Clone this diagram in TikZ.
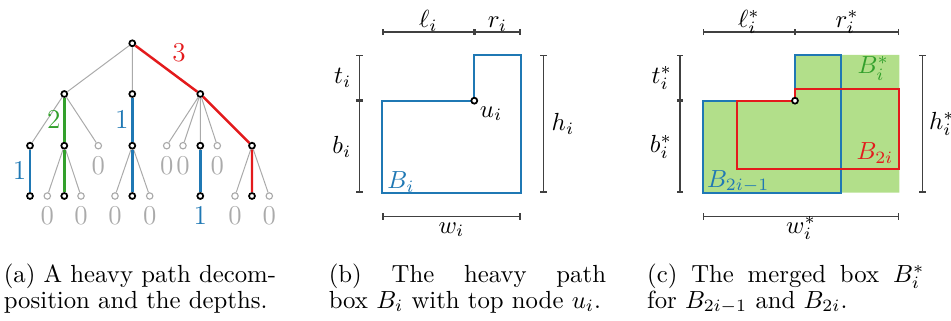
\documentclass[tikz,border=0pt]{standalone}
\usetikzlibrary{arrows.meta}
\definecolor{hblue}{HTML}{1F78B4}
\definecolor{hred}{HTML}{E31A1C}
\definecolor{hgreen}{HTML}{33A02C}
\definecolor{hfill}{HTML}{B2DF8A}
\definecolor{lgr}{HTML}{AAAAAA}
\definecolor{dimc}{HTML}{404040}
\tikzset{
  vtx/.style={circle,draw=black,fill=white,line width=0.7pt,inner sep=0pt,minimum size=2.4pt},
  gvtx/.style={vtx,draw=lgr,line width=0.45pt,minimum size=2.6pt},
  zero/.style={gvtx,label={[dig,text=lgr,label distance=1.5pt]below:0}},
  light/.style={draw=lgr,line width=0.4pt},
  heavy/.style={line width=1pt},
  dig/.style={font=\fontsize{11}{13}\selectfont,inner sep=1pt},
  lab/.style={font=\fontsize{10}{12}\selectfont,inner sep=1pt,text=black},
  toplab/.style={lab,midway,anchor=base,yshift=1.9pt},
  botlab/.style={lab,midway,anchor=base,yshift=-6.7pt},
  dim/.style={{Bar[width=2.6pt]}-{Bar[width=2.6pt]},line width=0.5pt,dimc},
  hbox/.style={line width=0.9pt},
  captxt/.style={anchor=base west,text width=112pt,align=left,inner sep=0pt,font=\fontsize{10}{10.5}\selectfont}
}

\begin{document}
\begin{tikzpicture}[x=0.404pt,y=-0.404pt]
\useasboundingbox (0,0) rectangle (951,321);
% (a) tree and its heavy paths
\node[vtx] (r) at (132.3,43.3) {};
\node[vtx] (a1) at (64.3,94) {};
\node[vtx] (a2) at (132.3,94) {};
\node[vtx] (a3) at (200.3,94) {};
\node[vtx] (b1) at (30,145.7) {};
\node[vtx] (b2) at (64.3,145.7) {};
\node[zero] (b3) at (98.3,145.7) {};
\node[vtx] (b4) at (132.3,145.7) {};
\node[zero] (b5) at (166.7,145.7) {};
\node[zero] (b6) at (183,145.7) {};
\node[vtx] (b7) at (200.3,145.7) {};
\node[zero] (b8) at (217.3,145.7) {};
\node[vtx] (b9) at (252,145.7) {};
\node[vtx] (c1) at (30,196) {};
\node[zero] (c2) at (47.3,196) {};
\node[vtx] (c3) at (64.3,196) {};
\node[zero] (c4) at (81,196) {};
\node[zero] (c5) at (115,196) {};
\node[vtx] (c6) at (132.3,196) {};
\node[zero] (c7) at (149.7,196) {};
\node[vtx,label={[dig,text=hblue,label distance=1.5pt]below:1}] (c8) at (200.3,196) {};
\node[zero] (c9) at (235,196) {};
\node[vtx] (c10) at (252,196) {};
\node[zero] (c11) at (269.3,196) {};
\draw[light] (r) -- (a1) (r) -- (a2) (a1) -- (b1) (a1) -- (b3)
  (a3) -- (b5) (a3) -- (b6) (a3) -- (b7) (a3) -- (b8)
  (b2) -- (c2) (b2) -- (c4) (b4) -- (c5) (b4) -- (c7) (b9) -- (c9) (b9) -- (c11);
\draw[heavy,hred] (r) -- (a3) node[dig,midway,above right=1pt,text=hred] (d3) {3} -- (b9) -- (c10);
\draw[heavy,hgreen] (a1) -- (b2) node[dig,midway,left,text=hgreen] (d2) {2} -- (c3);
\draw[heavy,hblue] (a2) -- (b4) node[dig,midway,left,text=hblue] (d1m) {1} -- (c6);
\draw[heavy,hblue] (b1) -- (c1) node[dig,midway,left,text=hblue] (d1l) {1};
\draw[heavy,hblue] (b7) -- (c8);
% (b) heavy path box
\draw[hbox,hblue] (382.3,100.7) -- (474.3,100.7) -- (474.3,55) -- (520.7,55) -- (520.7,192.7) -- (382.3,192.7) -- cycle;
\node[vtx] (u) at (474.3,100.7) {};
\node[lab,anchor=north west] (ulab) at (u.south east) {$u_i$};
\node[lab,text=hblue] (bi) at (401,181.7) {$B_i$};
\draw[dim] (382.3,32) -- (474.3,32) node[toplab] (li) {$\ell_i$};
\draw[dim] (474.3,32) -- (520.7,32) node[toplab] (ri) {$r_i$};
\draw[dim] (359.3,55) -- (359.3,100.7) node[lab,midway,left=2pt] (ti) {$t_i$};
\draw[dim] (359.3,100.7) -- (359.3,192.7) node[lab,midway,left=2pt] (bbi) {$b_i$};
\draw[dim] (543.7,55) -- (543.7,192.7) node[lab,midway,right=2pt] (hi) {$h_i$};
\draw[dim] (382.3,216.7) -- (520.7,216.7) node[botlab] (wi) {$w_i$};
% (c) merged box
\fill[hfill] (702.7,100.7) -- (795,100.7) -- (795,55) -- (899.3,55) -- (899.3,192.7) -- (702.7,192.7) -- cycle;
\draw[hbox,hblue] (702.7,100.7) -- (795,100.7) -- (795,55) -- (841,55) -- (841,192.7) -- (702.7,192.7) -- cycle;
\draw[hbox,hred] (737.3,100.7) -- (795,100.7) -- (795,89.3) -- (899.3,89.3) -- (899.3,169.3) -- (737.3,169.3) -- cycle;
\node[vtx] (us) at (795,100.7) {};
\node[lab,text=hgreen] (bs) at (873.3,68.3) {$B_i^*$};
\node[lab,text=hred] (be) at (875,153.3) {$B_{2i}$};
\node[lab,text=hblue] (bo) at (738.3,181.7) {$B_{2i-1}$};
\draw[dim] (702.7,32) -- (795,32) node[toplab] (ls) {$\ell_i^*$};
\draw[dim] (795,32) -- (899.3,32) node[toplab] (rs) {$r_i^*$};
\draw[dim] (680,55) -- (680,100.7) node[lab,midway,left=2pt] (ts) {$t_i^*$};
\draw[dim] (680,100.7) -- (680,192.7) node[lab,midway,left=2pt] (bbs) {$b_i^*$};
\draw[dim] (922.3,55) -- (922.3,192.7) node[lab,midway,right=1.5pt] (hs) {$h_i^*$};
\draw[dim] (702.7,216.7) -- (899.3,216.7) node[botlab] (ws) {$w_i^*$};
% captions
\node[captxt] (capa) at (3.3,282.3) {(a) A heavy path decom-\\position and the depths.};
\node[captxt] (capb) at (328.3,282.3) {(b)\hfill The\hfill heavy\hfill path\\box $B_i$ with top node $u_i$.};
\node[captxt] (capc) at (646.7,282.3) {(c)\hfill The\hfill merged\hfill box\hfill $B_i^*$\\for $B_{2i-1}$ and $B_{2i}$.};
\end{tikzpicture}
\end{document}
